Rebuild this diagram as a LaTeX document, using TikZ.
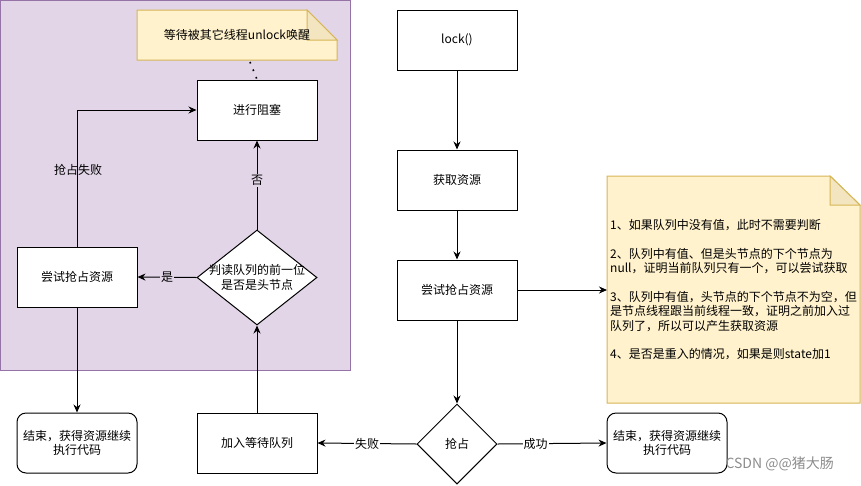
\documentclass[tikz,border=0pt]{standalone}
\usepackage{fontspec}
\setmainfont{Noto Sans CJK SC}
\usetikzlibrary{arrows.meta,shapes.geometric}
\definecolor{purplebg}{HTML}{E1D5E7}
\definecolor{purpleline}{HTML}{9673A6}
\definecolor{notefill}{HTML}{FFF2CC}
\definecolor{noteline}{HTML}{D6B656}
\definecolor{notefold}{HTML}{F2E5BF}
\tikzset{
  box/.style={draw=black, fill=white, line width=1pt, minimum width=120pt, minimum height=60pt, inner sep=0pt, font=\fontsize{12}{14.4}\selectfont, align=center},
  rbox/.style={box, rounded corners=9pt},
  dia/.style={draw=black, fill=white, line width=1pt, diamond, inner sep=0pt, font=\fontsize{12}{14.4}\selectfont, align=center},
  conn/.style={line width=1pt, -{Stealth[length=8pt,width=7pt]}},
  lbl/.style={font=\fontsize{12}{14.4}\selectfont, inner sep=1pt},
  txt/.style={font=\fontsize{12}{14.4}\selectfont, inner sep=0pt},
}
\begin{document}
\begin{tikzpicture}[x=1pt,y=-1pt]
\useasboundingbox (0,0) rectangle (861,485);
% purple container
\fill[purplebg, draw=purpleline, line width=1pt] (0.5,0.5) rectangle (350,370);
% top note
\filldraw[fill=notefill, draw=noteline, line width=1pt] (137,10) -- (307,10) -- (337,40) -- (337,60) -- (137,60) -- cycle;
\filldraw[fill=notefold, draw=noteline, line width=1pt] (307,10) -- (307,40) -- (337,40) -- cycle;
\node[txt] (note1) at (237,35) {等待被其它线程unlock唤醒};
\coordinate (note1b) at (250,62);
% nodes
\node[box] (block) at (257,110) {进行阻塞};
\node[dia, minimum width=120pt, minimum height=95pt, aspect=1.26] (judge) at (257,277.5) {};
\node[txt, align=center] (judget) at (257,277.5) {判读队列的前一位\\是否是头节点};
\node[box] (tryL) at (77,277) {尝试抢占资源};
\node[rbox] (endL) at (77,443) {结束，获得资源继续\\执行代码};
\node[box] (enq) at (257,443) {加入等待队列};
\node[box] (lock) at (457,40) {lock()};
\node[box] (get) at (457,180) {获取资源};
\node[box] (tryC) at (457,290) {尝试抢占资源};
\node[dia, minimum width=80pt, minimum height=80pt] (grab) at (457,444) {抢占};
\node[rbox] (endR) at (667,443) {结束，获得资源继续\\执行代码};
% right note
\filldraw[fill=notefill, draw=noteline, line width=1pt] (607,176) -- (830,176) -- (860,205) -- (860,403) -- (607,403) -- cycle;
\filldraw[fill=notefold, draw=noteline, line width=1pt] (830,176) -- (830,205) -- (860,205) -- cycle;
\node[txt, anchor=north west, align=left] (note2) at (610,219) {1、如果队列中没有值，此时不需要判断\\[14.4pt]
2、队列中有值、但是头节点的下个节点为\\
null，证明当前队列只有一个，可以尝试获取\\[14.4pt]
3、队列中有值，头节点的下个节点不为空，但\\
是节点线程跟当前线程一致，证明之前加入过\\
队列了，所以可以产生获取资源\\[14.4pt]
4、是否是重入的情况，如果是则state加1};
\coordinate (note2l) at (607,290);
% connectors
\draw[line width=1.6pt, dash pattern=on 1.6pt off 6.5pt] (note1b) -- (block.north);
\draw[conn] (lock) -- (get);
\draw[conn] (get) -- (tryC);
\draw[conn] (tryC.south) -- (grab.north);
\draw[conn] (tryC.east) -- (note2l);
\draw[conn] (grab.west) -- node[lbl, fill=white]{失败} (enq.east);
\draw[conn] (grab.east) -- node[lbl, fill=white, pos=0.35]{成功} (endR.west);
\draw[conn] (enq.north) -- (judge.south);
\draw[conn] (judge.west) -- node[lbl, fill=purplebg]{是} (tryL.east);
\draw[conn] (judge.north) -- node[lbl, fill=purplebg, pos=0.55]{否} (block.south);
\draw[conn] (tryL.north) -- (77,110) -- (block.west);
\node[lbl] (fail) at (78,170) {抢占失败};
\draw[conn] (tryL.south) -- (endL.north);
% watermark
\node[anchor=east, text=black!45, font=\fontsize{14}{16}\selectfont, inner sep=0pt] (wm) at (834,464) {CSDN @@猪大肠};
\end{tikzpicture}
\end{document}
